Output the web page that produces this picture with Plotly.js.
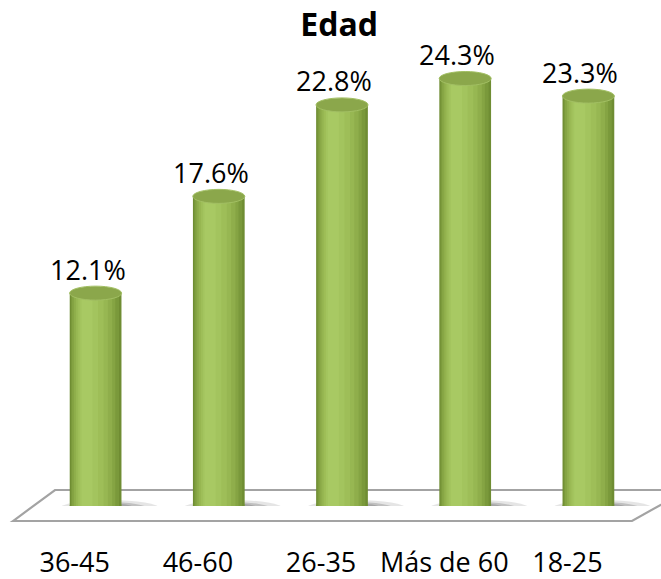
<!DOCTYPE html>
<html>
<head>
<meta charset="utf-8">
<script src="https://cdn.plot.ly/plotly-3.0.1.min.js"></script>
<style>html,body{margin:0;padding:0;background:#fff;}#chart{width:661px;height:579px;}</style>
</head>
<body>
<div id="chart"></div>
<script>
// ---- data ----
var categories = ["36-45", "46-60", "26-35", "Más de 60", "18-25"];
var values = [12.1, 17.6, 22.8, 24.3, 23.3];
var valueLabels = ["12.1%", "17.6%", "22.8%", "24.3%", "23.3%"];

// ---- styling (cylinder shading layers) ----
var shade = [
  {off: -0.21, w: 0.42, c: "#6f8d33"},
  {off: -0.20, w: 0.39, c: "#7a993b"},
  {off: -0.19, w: 0.35, c: "#85a443"},
  {off: -0.175, w: 0.31, c: "#8fae4b"},
  {off: -0.16, w: 0.26, c: "#97b752"},
  {off: -0.145, w: 0.21, c: "#9ebe58"},
  {off: -0.13, w: 0.15, c: "#a3c45e"},
  {off: -0.115, w: 0.09, c: "#a8c963"}
];
var xs = categories.map(function(_, i){ return i; });
var labelShift = -0.17; // perspective shift of category labels (axis units)

var traces = shade.map(function(s){
  return {
    type: "bar", x: xs, y: values,
    offset: s.off, width: s.w,
    marker: {color: s.c, line: {width: 0}},
    hoverinfo: "skip", showlegend: false
  };
});

var shapes = [];
// floor
shapes.push({
  type: "path", xref: "paper", yref: "paper", layer: "below",
  path: "M -0.0341 -0.0316 L 0.0341 0.0337 L 1.06 0.0337 L 0.9708 -0.0316 Z",
  fillcolor: "#ffffff", line: {color: "#a3a3a3", width: 2.2}
});
xs.forEach(function(i){
  // shadows
  shapes.push({type: "circle", xref: "x", yref: "y", layer: "below",
    xsizemode: "pixel", ysizemode: "pixel", xanchor: i, yanchor: 0,
    x0: -36, x1: 64, y0: -11, y1: 6,
    fillcolor: "rgba(0,0,0,0.10)", line: {width: 0}});
  shapes.push({type: "circle", xref: "x", yref: "y", layer: "below",
    xsizemode: "pixel", ysizemode: "pixel", xanchor: i, yanchor: 0,
    x0: -30, x1: 52, y0: -9, y1: 4,
    fillcolor: "rgba(0,0,0,0.16)", line: {width: 0}});
  shapes.push({type: "circle", xref: "x", yref: "y", layer: "below",
    xsizemode: "pixel", ysizemode: "pixel", xanchor: i, yanchor: 0,
    x0: -26, x1: 40, y0: -8, y1: 3,
    fillcolor: "rgba(0,0,0,0.14)", line: {width: 0}});
  // bottom rounding
  shapes.push({type: "circle", xref: "x", yref: "y", layer: "below",
    xsizemode: "pixel", ysizemode: "pixel", xanchor: i, yanchor: 0,
    x0: -26, x1: 26, y0: -7, y1: 7,
    fillcolor: "#92b24f", line: {width: 0}});
});
values.forEach(function(v, i){
  // top cap
  shapes.push({type: "circle", xref: "x", yref: "y", layer: "above",
    xsizemode: "pixel", ysizemode: "pixel", xanchor: i, yanchor: v,
    x0: -26, x1: 26, y0: -7, y1: 7,
    fillcolor: "#8ba74b", line: {color: "#a2bf63", width: 1}});
});

var annotations = values.map(function(v, i){
  return {x: i, y: v, xref: "x", yref: "y", text: valueLabels[i],
    showarrow: false, yanchor: "middle", yshift: 24, xshift: -8,
    font: {family: "Open Sans", size: 27, color: "#000"}};
});

var layout = {
  width: 661, height: 579,
  margin: {l: 34, r: 11, t: 31, b: 73},
  paper_bgcolor: "#fff", plot_bgcolor: "rgba(0,0,0,0)",
  barmode: "overlay",
  title: {text: "<b>Edad</b>", xref: "container", x: 0.513, xanchor: "center",
    yref: "container", y: 0.958, yanchor: "middle",
    font: {family: "Open Sans", size: 32, color: "#000"}},
  xaxis: {type: "linear", range: [-0.5, 4.5], tickmode: "array",
    tickvals: xs.map(function(i){ return i + labelShift; }), ticktext: categories,
    showgrid: false, zeroline: false, showline: false, ticks: "",
    ticklabelstandoff: 38,
    tickfont: {family: "Open Sans", size: 27, color: "#000"}},
  yaxis: {range: [0, 27], visible: false, showgrid: false, zeroline: false},
  shapes: shapes,
  annotations: annotations
};

Plotly.newPlot("chart", traces, layout, {displayModeBar: false, staticPlot: true});
</script>
</body>
</html>
